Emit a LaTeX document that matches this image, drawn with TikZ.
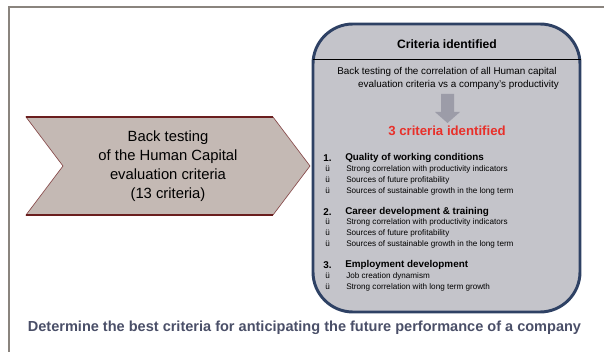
\documentclass[tikz,border=0pt]{standalone}
\usepackage{fontspec}
\setmainfont{Liberation Sans}
\usepackage{tikz}
\usetikzlibrary{positioning}
\definecolor{framegray}{HTML}{8A847E}
\definecolor{chevfill}{HTML}{C4B9B4}
\definecolor{chevline}{HTML}{6A1E1E}
\definecolor{boxfill}{HTML}{C4C4CA}
\definecolor{boxline}{HTML}{2E4164}
\definecolor{arrgray}{HTML}{9C9CA8}
\definecolor{critred}{HTML}{E8302A}
\definecolor{footblue}{HTML}{4A4F68}
\tikzset{head/.style = {anchor=west, inner sep=0, font=\fontsize{7.4}{8}\selectfont\bfseries}}
\tikzset{sub/.style = {anchor=west, inner sep=0, font=\fontsize{6.1}{7}\selectfont}}
\tikzset{desc/.style = {inner sep=0, font=\fontsize{7.4}{8}\selectfont}}

\begin{document}
\begin{tikzpicture}[x=0.75pt,y=-0.75pt]
        \useasboundingbox (0,0) rectangle (604,352);
        % page frame
        \draw [framegray, line width=0.8pt] (9,352) -- (9,7) -- (604,7);
        % input chevron
        \filldraw [chevfill, draw=chevline!80, line width=0.5pt] (26,117) -- (273,117) -- (310,166) -- (273,215) -- (26,215) -- (63,166) -- cycle;
        \draw [chevline, line width=1.3pt] (26,117) -- (273,117);
        \draw [chevline, line width=1.3pt] (26,215) -- (273,215);
        \node (input) [align=center, font=\fontsize{11.1}{14.3}\selectfont] at (168,166) {Back testing\\of the Human Capital\\evaluation criteria\\(13 criteria)};
        % result box
        \filldraw [boxfill, draw=boxline, line width=2.2pt, rounded corners=30pt] (313,24) rectangle (580,312);
        \draw [black, line width=0.6pt] (313,59) -- (581,59);
        \node (title) [inner sep=0, font=\fontsize{9.1}{10}\selectfont\bfseries] at (447,44) {Criteria identified};
        \node (desca) [desc] at (447,72) {Back testing of the correlation of all Human capital};
        \node (descb) [desc, anchor=east] at (559,85) {evaluation criteria vs a company's productivity};
        \fill [arrgray] (441,94) -- (454,94) -- (454,112) -- (460,112) -- (447.5,123) -- (435,112) -- (441,112) -- cycle;
        \node (three) [inner sep=0, text=critred, font=\fontsize{9.9}{11}\selectfont\bfseries] at (447,131) {3 criteria identified};
        % the three criteria
        \node (numa) [head] at (323,158) {1.};
        \node (crita) [head] at (345,158) {Quality of working conditions};
        \node (numb) [head] at (323,212) {2.};
        \node (critb) [head] at (345,212) {Career development \& training};
        \node (numc) [head] at (323,265) {3.};
        \node (critc) [head] at (345,265) {Employment development};
        \foreach \y/\t [count=\i] in {169/Strong correlation with productivity indicators, 180/Sources of future profitability, 191/Sources of sustainable growth in the long term, 222/Strong correlation with productivity indicators, 233/Sources of future profitability, 244/Sources of sustainable growth in the long term, 276/Job creation dynamism, 287/Strong correlation with long term growth}{
            \node (tick\i) [sub] at (325,\y) {ü};
            \node (line\i) [sub] at (346,\y) {\t};
        }
        % conclusion
        \node (goal) [inner sep=0, text=footblue, font=\fontsize{10.9}{12}\selectfont\bfseries] at (304.5,328) {Determine the best criteria for anticipating the future performance of a company};
    \end{tikzpicture}
\end{document}
